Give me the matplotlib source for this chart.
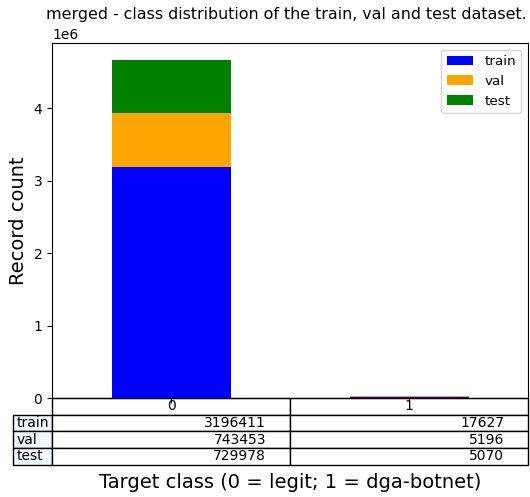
import matplotlib
matplotlib.use("Agg")
import matplotlib.pyplot as plt
import numpy as np

classes = ["0", "1"]
series_names = ["train", "val", "test"]
train = [3196411, 17627]
val = [743453, 5196]
test = [729978, 5070]
colors = ["blue", "orange", "green"]

fig = plt.figure(figsize=(5.3, 4.97), dpi=100)
ax = fig.add_axes([52/530, 99/497, 476/530, 355/497])

x = np.arange(len(classes))
bottom = np.zeros(len(classes))
for name, vals, c in zip(series_names, [train, val, test], colors):
    ax.bar(x, vals, width=0.5, bottom=bottom, color=c, label=name)
    bottom += np.array(vals)

ax.set_xlim(-0.5, 1.5)
ax.set_ylim(0, bottom.max() * 1.05)
ax.set_xticks(x)
ax.set_xticklabels([])
ax.legend(loc="upper right", fontsize=9.7)
ax.set_ylabel("Record count", fontsize=14)

fig.text(286/530, 1 - 15/497, "merged - class distribution of the train, val and test dataset.",
         fontsize=11.4, ha="center", va="center")

cell_text = [[str(v) for v in row] for row in [train, val, test]]
tbl = ax.table(cellText=cell_text, rowLabels=series_names, colLabels=classes,
               rowColours=["#f0f8ff"] * 3, loc="bottom")
for (r, c), cell in tbl.get_celld().items():
    if c == -1:
        cell._loc = "left"
    if r == 0:
        cell._loc = "center"

fig.text(290/530, 1 - 483/497, "Target class (0 = legit; 1 = dga-botnet)", fontsize=14,
         ha="center", va="center")

fig.savefig("out.png", dpi=100)
